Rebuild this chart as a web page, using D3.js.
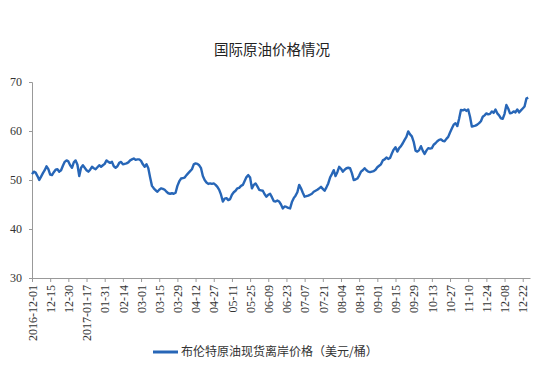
<!DOCTYPE html>
<html>
<head>
<meta charset="utf-8">
<script src="https://cdn.jsdelivr.net/npm/d3@7"></script>
<style>
    body { margin: 0; background: #fff; }
    .axisLabel { font-family: "Liberation Serif", serif; font-size: 12px; fill: #333; }
</style>
</head>
<body>
<div id="graph"></div>
<script>
// Tick labels, one every 10 trading days
var tickLabels = [ '2016-12-01', '12-15', '12-30', '2017-01-17', '01-31', '02-14', '03-01',
                   '03-15', '03-29', '04-12', '04-27', '05-11', '05-25', '06-09', '06-23',
                   '07-07', '07-21', '08-04', '08-18', '09-01', '09-15', '09-29', '10-13',
                   '10-27', '11-10', '11-24', '12-08', '12-22' ];

var seriesName = '布伦特原油现货离岸价格（美元/桶）';

// Brent spot price, one value per trading day
var brentPrices = [
    51.2, 51.7, 51.5, 50.8, 50.0, 50.7, 51.4, 52.0, 52.8, 52.2,
    51.1, 51.0, 51.6, 52.1, 52.2, 51.7, 52.0, 52.9, 53.7, 54.0,
    53.8, 53.0, 52.5, 53.6, 54.0, 53.1, 50.8, 52.5, 53.0, 52.5,
    52.0, 51.7, 52.1, 52.7, 52.4, 52.2, 52.6, 53.0, 52.7, 53.0,
    53.3, 54.0, 53.7, 53.5, 53.7, 52.8, 52.5, 52.8, 53.5, 53.7,
    53.2, 53.3, 53.4, 53.6, 54.0, 54.2, 54.4, 54.1, 54.2, 54.2,
    53.9, 53.2, 52.7, 53.2, 52.4, 50.5, 48.8, 48.3, 47.9, 47.6,
    48.0, 48.3, 48.2, 48.0, 47.6, 47.3, 47.2, 47.3, 47.2, 47.4,
    48.8, 49.7, 50.3, 50.4, 50.5, 51.0, 51.4, 51.8, 52.2, 53.2,
    53.4, 53.3, 53.0, 52.4, 50.8, 50.0, 49.5, 49.2, 49.3, 49.2,
    49.3, 49.0, 48.6, 48.0, 47.0, 45.6, 46.2, 46.3, 45.9, 46.1,
    47.0, 47.5, 47.8, 48.3, 48.4, 48.8, 49.0, 49.8, 50.6, 51.0,
    50.5, 48.3, 49.0, 49.3, 48.7, 48.0, 47.9, 47.8, 47.1, 46.6,
    47.0, 47.2, 46.5, 45.7, 45.6, 45.8, 45.6, 45.0, 44.2, 44.6,
    44.5, 44.3, 44.2, 45.5, 46.3, 46.8, 47.5, 49.0, 48.3, 47.4,
    46.6, 46.7, 46.8, 47.0, 47.2, 47.6, 47.8, 48.0, 48.3, 48.6,
    48.2, 47.8, 48.5, 49.3, 50.5, 51.2, 52.0, 50.8, 51.6, 52.7,
    52.3, 51.7, 52.1, 52.4, 52.5, 52.4, 51.4, 50.0, 50.1, 50.3,
    50.9, 51.7, 52.0, 52.4, 52.0, 51.7, 51.6, 51.7, 51.8, 52.1,
    52.6, 52.9, 53.2, 54.0, 54.2, 54.6, 54.3, 54.5, 55.4, 56.2,
    56.7, 55.8, 56.5, 56.9, 57.5, 58.2, 58.8, 59.9, 59.3, 58.9,
    57.8, 56.0, 55.8, 56.1, 56.9, 56.0, 55.3, 56.0, 56.5, 56.4,
    56.5, 57.2, 57.5, 57.9, 58.2, 58.3, 58.0, 57.9, 58.4, 58.8,
    59.7, 60.5, 61.3, 61.6, 61.0, 62.5, 64.3, 64.2, 64.4, 64.1,
    64.4, 62.9, 60.9, 61.0, 61.1, 61.3, 61.6, 62.0, 62.9, 63.2,
    63.6, 63.4, 63.5, 64.0, 63.7, 64.4, 63.6, 63.2, 62.6, 62.5,
    63.5, 65.3, 64.6, 63.6, 63.7, 64.0, 63.8, 64.4, 63.8, 64.2,
    64.6, 65.0, 66.6, 66.8
];

var yTicks = [ 30, 40, 50, 60, 70 ];

function DrawChart ()
{
    var width  = 544;
    var height = 371;
    var margin = { top: 82, right: 14, bottom: 93, left: 32 };

    var dataset = brentPrices.map (function (v, i) { return { x: i, y: v }; });

    var xScale = d3.scaleLinear ()
                   .domain ( [ 0, 274 ] )
                   .range ( [ margin.left, width - margin.right ] );

    var yScale = d3.scaleLinear ()
                   .domain ( [ 30, 70 ] )
                   .range ( [ height - margin.bottom, margin.top ] );

    var svg = d3.select ('#graph')
                .append ('svg')
                .attr ('width', width)
                .attr ('height', height);

    // Title
    svg.append ('text')
       .attr ('x', 272)
       .attr ('y', 55)
       .style ('text-anchor', 'middle')
       .style ('font-family', '"Noto Sans CJK SC", sans-serif')
       .style ('font-size', '14.5px')
       .style ('fill', '#222')
       .text ('国际原油价格情况');

    // Y axis
    var yAxis = d3.axisLeft (yScale)
                  .tickValues (yTicks)
                  .tickSize (3)
                  .tickPadding (7);

    var gy = svg.append ('g')
                .attr ('transform', 'translate(' + margin.left + ',0)')
                .call (yAxis);

    // X axis, one label every 10 trading days
    var xAxis = d3.axisBottom (xScale)
                  .tickValues (tickLabels.map (function (d, i) { return i * 10; }))
                  .tickFormat (function (d) { return tickLabels[d / 10]; })
                  .tickSize (4)
                  .tickSizeOuter (0);

    var gx = svg.append ('g')
                .attr ('transform', 'translate(0,' + (height - margin.bottom) + ')')
                .call (xAxis);

    gx.selectAll ('text')
      .attr ('transform', 'rotate(-90)')
      .attr ('x', -7)
      .attr ('y', 0)
      .attr ('dy', '0.35em')
      .style ('text-anchor', 'end');

    [gx, gy].forEach (function (g)
    {
        g.selectAll ('path, line').attr ('stroke', '#999');
        g.selectAll ('text')
         .attr ('class', 'axisLabel')
         .attr ('fill', null);
    });

    // The line
    var lineResults = d3.line ()
                        .x (function (d) { return xScale (d.x); })
                        .y (function (d) { return yScale (d.y); });

    svg.append ('path')
       .datum (dataset)
       .attr ('fill', 'none')
       .attr ('stroke', '#2766b7')
       .attr ('stroke-width', 2.4)
       .attr ('stroke-linejoin', 'round')
       .attr ('d', lineResults);

    // Legend
    var legend = svg.append ('g')
                    .attr ('transform', 'translate(153,352)');

    legend.append ('line')
          .attr ('x1', 0)
          .attr ('x2', 25)
          .attr ('stroke', '#2766b7')
          .attr ('stroke-width', 3);

    legend.append ('text')
          .attr ('x', 28)
          .attr ('dy', '0.35em')
          .style ('font-family', '"Noto Sans CJK SC", sans-serif')
          .style ('font-size', '12px')
          .style ('fill', '#333')
          .text (seriesName);
}

DrawChart ();
</script>
</body>
</html>
